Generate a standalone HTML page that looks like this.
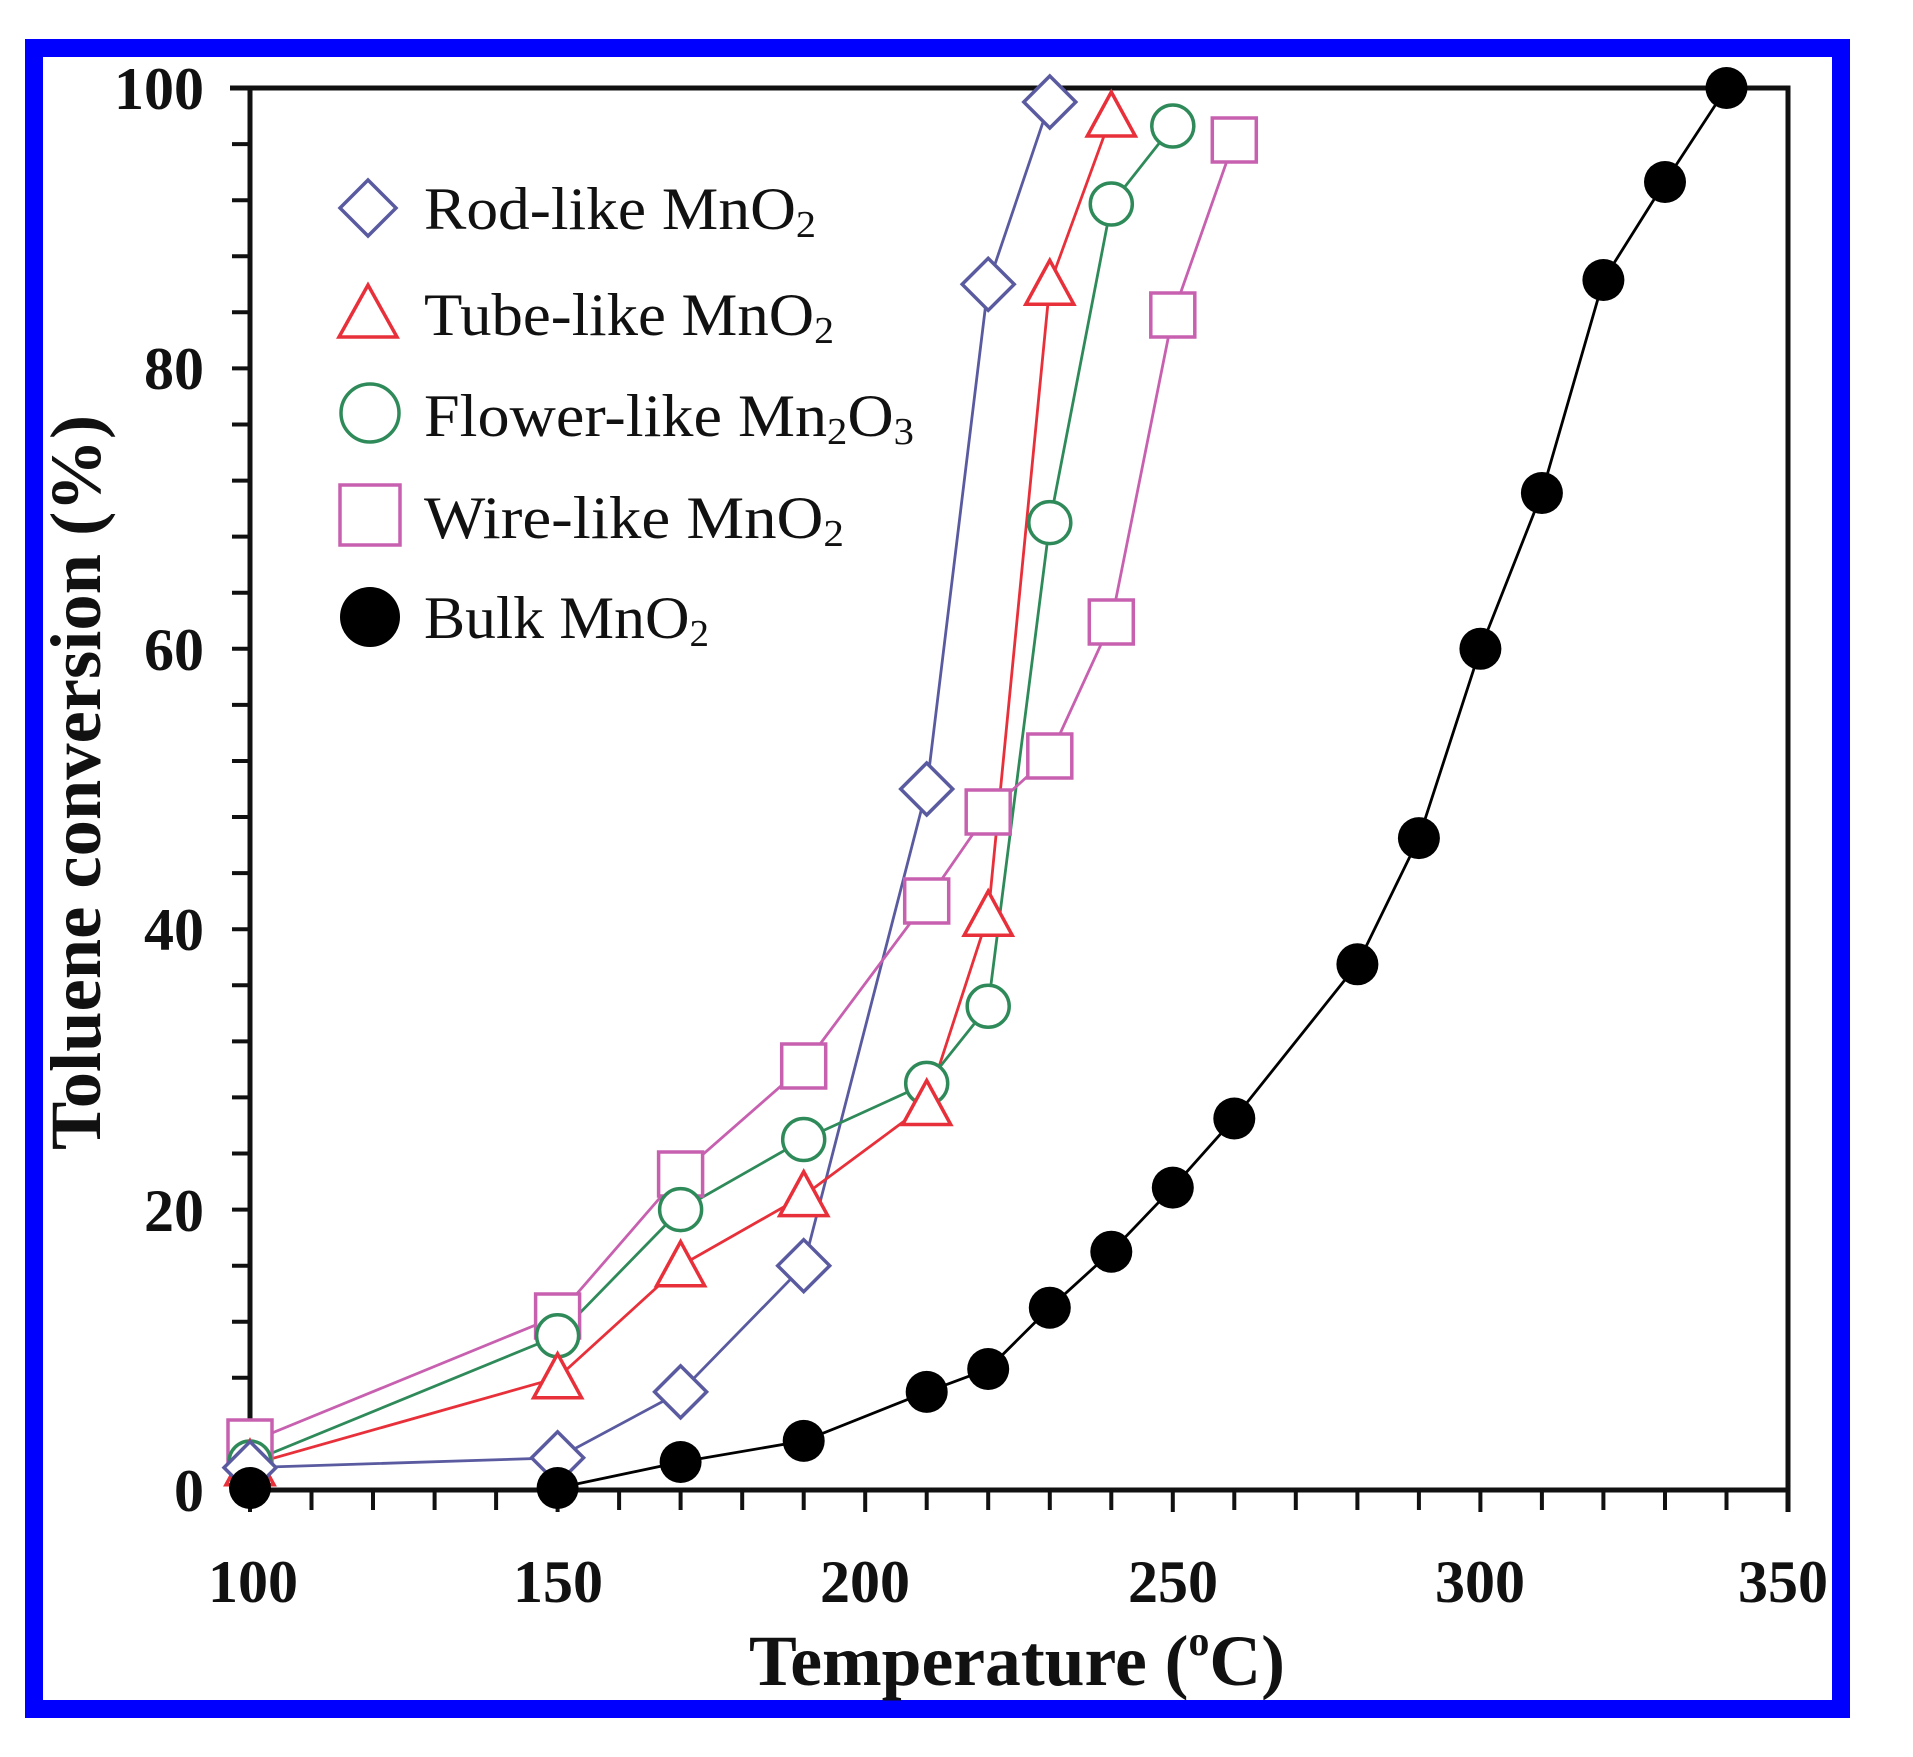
<!DOCTYPE html>
<html><head><meta charset="utf-8"><style>html,body{margin:0;padding:0;background:#fff}svg{display:block}</style></head>
<body>
<svg width="1913" height="1757" viewBox="0 0 1913 1757" xmlns="http://www.w3.org/2000/svg">
<defs>
<g id="dia"><polygon points="0,-26 26,0 0,26 -26,0" fill="#fff" stroke="#5a5aa0" stroke-width="3.5"/></g>
<g id="tri"><polygon points="0,-24 24,20 -24,20" fill="#fff" stroke="#e8303a" stroke-width="3.5"/></g>
<g id="cir"><circle r="21" fill="#fff" stroke="#2f8a5a" stroke-width="3.5"/></g>
<g id="sq"><rect x="-22" y="-22" width="44" height="44" fill="#fff" stroke="#c860b0" stroke-width="3.5"/></g>
<g id="blk"><circle r="21" fill="#000"/></g>
</defs>
<rect x="34" y="48" width="1807" height="1661" fill="none" stroke="#0000ff" stroke-width="18"/>

<g stroke="#111" stroke-width="5" fill="none">
<polyline points="230,88 1788,88 1788,1512"/>
<polyline points="250,88 250,1490 1790,1490"/>
</g>
<g stroke="#111" stroke-width="4">
<path d="M232 1490H250M232 1433.9H250M232 1377.8H250M232 1321.8H250M232 1265.7H250M232 1209.6H250M232 1153.5H250M232 1097.4H250M232 1041.4H250M232 985.3H250M232 929.2H250M232 873.1H250M232 817H250M232 761H250M232 704.9H250M232 648.8H250M232 592.7H250M232 536.6H250M232 480.6H250M232 424.5H250M232 368.4H250M232 312.3H250M232 256.2H250M232 200.2H250M232 144.1H250"/>
<path d="M250 1490V1512M311.5 1490V1510M373 1490V1510M434.6 1490V1510M496.1 1490V1510M557.6 1490V1512M619.1 1490V1510M680.6 1490V1510M742.2 1490V1510M803.7 1490V1510M865.2 1490V1512M926.7 1490V1510M988.2 1490V1510M1049.8 1490V1510M1111.3 1490V1510M1172.8 1490V1512M1234.3 1490V1510M1295.8 1490V1510M1357.4 1490V1510M1418.9 1490V1510M1480.4 1490V1512M1541.9 1490V1510M1603.4 1490V1510M1665 1490V1510M1726.5 1490V1510"/>
</g>

<g font-family="'Liberation Serif',serif" font-weight="bold" font-size="60" fill="#111">
<g text-anchor="end">
<text x="204" y="109">100</text>
<text x="204" y="389">80</text>
<text x="204" y="670">60</text>
<text x="204" y="950">40</text>
<text x="204" y="1231">20</text>
<text x="204" y="1511">0</text>
</g>
<g text-anchor="middle">
<text x="253" y="1602">100</text>
<text x="558" y="1602">150</text>
<text x="865" y="1602">200</text>
<text x="1173" y="1602">250</text>
<text x="1480" y="1602">300</text>
<text x="1783" y="1602">350</text>
</g>
<text x="749" y="1685" font-size="72" textLength="536" lengthAdjust="spacingAndGlyphs">Temperature (<tspan font-size="42" dy="-30">o</tspan><tspan dy="30">C)</tspan></text>
<text transform="translate(100,1150) rotate(-90)" font-size="72" textLength="735" lengthAdjust="spacingAndGlyphs">Toluene conversion (%)</text>
</g>

<g fill="none" stroke-width="2.8">
<polyline stroke="#5a5aa0" points="250,1467.6 557.6,1457.8 680.6,1391.9 803.7,1265.7 926.7,789 988.2,284.3 1049.8,102"/>
<polyline stroke="#e8303a" points="250,1464.8 557.6,1377.8 680.6,1265.7 803.7,1195.6 926.7,1104.5 988.2,915.2 1049.8,284.3 1111.3,116"/>
<polyline stroke="#2f8a5a" points="250,1462 557.6,1335.8 680.6,1209.6 803.7,1139.5 926.7,1083.4 988.2,1006.3 1049.8,522.6 1111.3,204 1172.8,126"/>
<polyline stroke="#c860b0" points="250,1442 557.6,1316 680.6,1174 803.7,1066 926.7,901 988.2,812 1049.8,756 1111.3,622 1172.8,315 1234.3,140"/>
<polyline stroke="#000" points="557.6,1488 680.6,1462 803.7,1440.9 926.7,1391.9 988.2,1369 1049.8,1307.7 1111.3,1251.7 1172.8,1187.6 1234.3,1118.5 1357.4,964.3 1418.9,838.1 1480.4,648.8 1541.9,493 1603.4,280 1665,182 1726.5,88"/>
</g>

<g>
<use href="#sq" x="250" y="1442"/><use href="#sq" x="557.6" y="1316"/><use href="#sq" x="680.6" y="1174"/><use href="#sq" x="803.7" y="1066"/><use href="#sq" x="926.7" y="901"/><use href="#sq" x="988.2" y="812"/><use href="#sq" x="1049.8" y="756"/><use href="#sq" x="1111.3" y="622"/><use href="#sq" x="1172.8" y="315"/><use href="#sq" x="1234.3" y="140"/>
<use href="#cir" x="250" y="1462"/><use href="#cir" x="557.6" y="1335.8"/><use href="#cir" x="680.6" y="1209.6"/><use href="#cir" x="803.7" y="1139.5"/><use href="#cir" x="926.7" y="1083.4"/><use href="#cir" x="988.2" y="1006.3"/><use href="#cir" x="1049.8" y="522.6"/><use href="#cir" x="1111.3" y="204"/><use href="#cir" x="1172.8" y="126"/>
<use href="#tri" x="250" y="1464.8"/><use href="#tri" x="557.6" y="1377.8"/><use href="#tri" x="680.6" y="1265.7"/><use href="#tri" x="803.7" y="1195.6"/><use href="#tri" x="926.7" y="1104.5"/><use href="#tri" x="988.2" y="915.2"/><use href="#tri" x="1049.8" y="284.3"/><use href="#tri" x="1111.3" y="116"/>
<use href="#dia" x="250" y="1467.6"/><use href="#dia" x="557.6" y="1457.8"/><use href="#dia" x="680.6" y="1391.9"/><use href="#dia" x="803.7" y="1265.7"/><use href="#dia" x="926.7" y="789"/><use href="#dia" x="988.2" y="284.3"/><use href="#dia" x="1049.8" y="102"/>
<use href="#blk" x="250" y="1488"/><use href="#blk" x="557.6" y="1488"/><use href="#blk" x="680.6" y="1462"/><use href="#blk" x="803.7" y="1440.9"/><use href="#blk" x="926.7" y="1391.9"/><use href="#blk" x="988.2" y="1369"/><use href="#blk" x="1049.8" y="1307.7"/><use href="#blk" x="1111.3" y="1251.7"/><use href="#blk" x="1172.8" y="1187.6"/><use href="#blk" x="1234.3" y="1118.5"/><use href="#blk" x="1357.4" y="964.3"/><use href="#blk" x="1418.9" y="838.1"/><use href="#blk" x="1480.4" y="648.8"/><use href="#blk" x="1541.9" y="493"/><use href="#blk" x="1603.4" y="280"/><use href="#blk" x="1665" y="182"/><use href="#blk" x="1726.5" y="88"/>
</g>

<g>
<polygon points="368,180 396,208 368,236 340,208" fill="#fff" stroke="#5a5aa0" stroke-width="3.5"/>
<polygon points="368,285 397,337 339,337" fill="#fff" stroke="#e8303a" stroke-width="3.5"/>
<circle cx="370" cy="413" r="29" fill="#fff" stroke="#2f8a5a" stroke-width="3.5"/>
<rect x="340" y="485" width="60" height="60" fill="#fff" stroke="#c860b0" stroke-width="3.5"/>
<circle cx="370" cy="617" r="30" fill="#000"/>
</g>
<g font-family="'Liberation Serif',serif" font-size="60" fill="#111">
<text x="424" y="229" textLength="392" lengthAdjust="spacingAndGlyphs">Rod-like MnO<tspan font-size="38" dy="8">2</tspan></text>
<text x="424" y="335" textLength="410" lengthAdjust="spacingAndGlyphs">Tube-like MnO<tspan font-size="38" dy="8">2</tspan></text>
<text x="424" y="436" textLength="490" lengthAdjust="spacingAndGlyphs">Flower-like Mn<tspan font-size="38" dy="8">2</tspan><tspan dy="-8">O</tspan><tspan font-size="38" dy="8">3</tspan></text>
<text x="424" y="538" textLength="420" lengthAdjust="spacingAndGlyphs">Wire-like MnO<tspan font-size="38" dy="8">2</tspan></text>
<text x="424" y="638" textLength="285" lengthAdjust="spacingAndGlyphs">Bulk MnO<tspan font-size="38" dy="8">2</tspan></text>
</g>
</svg>
</body></html>
